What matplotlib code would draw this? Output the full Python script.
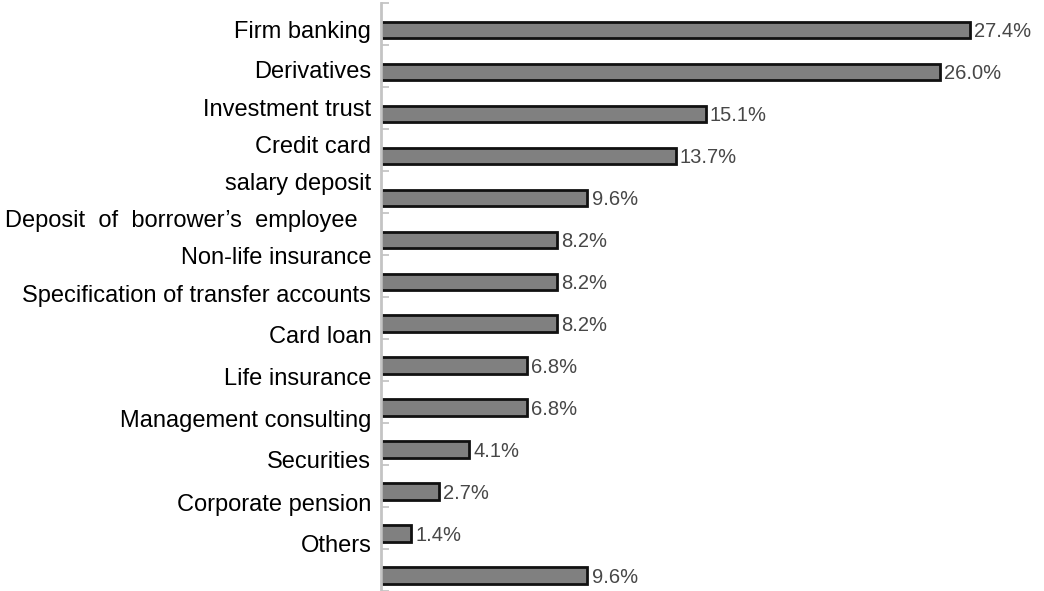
import matplotlib.pyplot as plt
import numpy as np

labels = ['Firm banking', 'Derivatives', 'Investment trust', 'Credit card',
          'salary deposit', 'Deposit  of  borrower\u2019s  employee  ',
          'Non-life insurance', 'Specification of transfer accounts',
          'Card loan', 'Life insurance', 'Management consulting',
          'Securities', 'Corporate pension', 'Others']
shares = [27.4, 26.0, 15.1, 13.7, 9.6, 8.2, 8.2, 8.2, 6.8, 6.8, 4.1, 2.7, 1.4, 9.6]

# the category names sit in their own column, drifting upward from the bars
label_pos = [0.05, 1.0, 1.90, 2.78, 3.66, 4.54, 5.42, 6.34, 7.32, 8.31,
             9.31, 10.29, 11.31, 12.30]

fig = plt.figure(figsize=(10.44, 5.91), dpi=100)
ax = fig.add_axes([381 / 1044, 0.0, 1 - 381 / 1044, 588 / 591])

ypos = np.arange(len(shares))
ax.barh(ypos, shares, height=0.40, color='#808080', edgecolor='#111111',
        linewidth=2.0)

for y, v in zip(ypos, shares):
    ax.text(v + 0.2, y + 0.04, f'{v:.1f}%', va='center', ha='left',
            family='Liberation Sans', fontsize=14.5, color='#474747')

for y, name in zip(label_pos, labels):
    ax.text(-0.45, y, name, va='center', ha='right',
            family='Liberation Sans', fontsize=17, color='black',
            clip_on=False)

ax.set_xlim(0, (1044 - 381) / 21.5)
ax.set_ylim(13.33, -0.641)

ax.set_yticks(np.arange(-1, len(shares)) + 0.36)
ax.set_yticklabels([])
ax.set_xticks([])
ax.tick_params(axis='y', direction='in', length=6, width=1.2,
               color='#c0c0c0')
for side in ['top', 'right', 'bottom']:
    ax.spines[side].set_visible(False)
ax.spines['left'].set_color('#c4c4c4')
ax.spines['left'].set_linewidth(2)

fig.savefig('out.png', dpi=100)
